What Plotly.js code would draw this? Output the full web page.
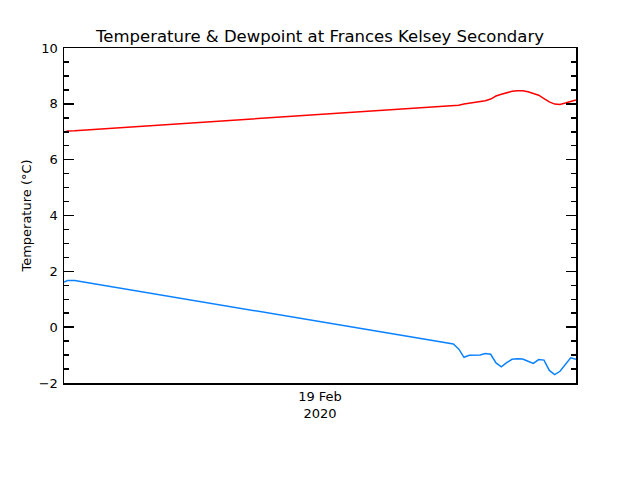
<!DOCTYPE html>
<html>
<head>
<meta charset="utf-8">
<script src="https://cdn.plot.ly/plotly-3.0.1.min.js"></script>
<style>html,body{margin:0;padding:0;background:#fff;}#chart{width:640px;height:480px;}</style>
</head>
<body>
<div id="chart"></div>
<script>
var times = [
  '2020-02-18 12:00', '2020-02-18 12:10', '2020-02-18 12:30',
  '2020-02-19 06:15', '2020-02-19 06:30', '2020-02-19 06:45', '2020-02-19 07:00',
  '2020-02-19 07:15', '2020-02-19 07:30', '2020-02-19 07:45', '2020-02-19 08:00',
  '2020-02-19 08:15', '2020-02-19 08:30', '2020-02-19 08:45', '2020-02-19 09:00',
  '2020-02-19 09:15', '2020-02-19 09:30', '2020-02-19 09:45', '2020-02-19 10:00',
  '2020-02-19 10:15', '2020-02-19 10:30', '2020-02-19 10:45', '2020-02-19 11:00',
  '2020-02-19 11:15', '2020-02-19 11:30', '2020-02-19 11:45', '2020-02-19 12:00'
];
var temperature = [
  6.98, 7.03, 7.04,
  7.92, 7.95, 7.99, 8.02,
  8.05, 8.08, 8.11, 8.17,
  8.28, 8.34, 8.40, 8.45,
  8.47, 8.47, 8.43, 8.37,
  8.31, 8.19, 8.07, 7.99,
  7.98, 8.03, 8.09, 8.14
];
var dewpoint = [
  1.62, 1.67, 1.67,
  -0.60, -0.78, -1.08, -1.01,
  -1.00, -1.00, -0.94, -0.97,
  -1.28, -1.42, -1.27, -1.15,
  -1.13, -1.14, -1.22, -1.30,
  -1.16, -1.18, -1.55, -1.70,
  -1.58, -1.35, -1.10, -1.15
];
var xRange = ['2020-02-18 12:00', '2020-02-19 12:00'];
var xTickVals = ['2020-02-19 00:00'];
var xTickText = ['19 Feb<br>2020'];
var yTickVals = [-2, 0, 2, 4, 6, 8, 10];
var yTickText = ['\u22122', '0', '2', '4', '6', '8', '10'];

var traces = [
  {x: times, y: temperature, type: 'scatter', mode: 'lines',
   line: {color: '#ff0000', width: 1.5}, hoverinfo: 'skip'},
  {x: times, y: dewpoint, type: 'scatter', mode: 'lines',
   line: {color: '#0a82ff', width: 1.5}, hoverinfo: 'skip'}
];
var layout = {
  width: 640, height: 480,
  margin: {l: 64, r: 64, t: 48, b: 97},
  paper_bgcolor: '#fff', plot_bgcolor: '#fff',
  showlegend: false,
  font: {family: 'DejaVu Sans', color: '#000', size: 13},
  title: {text: 'Temperature &amp; Dewpoint at Frances Kelsey Secondary',
          font: {family: 'DejaVu Sans', size: 16.5, color: '#000'},
          x: 0.5, xanchor: 'center', y: 1 - 36/480, yanchor: 'middle'},
  xaxis: {type: 'date', range: xRange, showgrid: false, zeroline: false,
          showline: true, linecolor: '#000', linewidth: 1.5, mirror: true,
          ticks: '', tickmode: 'array', tickvals: xTickVals, ticktext: xTickText,
          tickfont: {size: 13}, ticklabelstandoff: 1},
  yaxis: {range: [-2, 10], showgrid: false, zeroline: false,
          showline: true, linecolor: '#000', linewidth: 1.5, mirror: 'allticks',
          ticks: 'inside', ticklen: 10, tickwidth: 1.5, tickcolor: '#000',
          tickmode: 'array', tickvals: yTickVals, ticktext: yTickText,
          tickfont: {size: 13}, ticklabelstandoff: 2,
          minor: {ticks: 'inside', ticklen: 5, tickwidth: 1.5, tickcolor: '#000', dtick: 0.5, showgrid: false},
          title: {text: 'Temperature (\u00b0C)', font: {size: 13}, standoff: 4}}
};
Plotly.newPlot('chart', traces, layout, {staticPlot: true, displayModeBar: false});
</script>
</body>
</html>
